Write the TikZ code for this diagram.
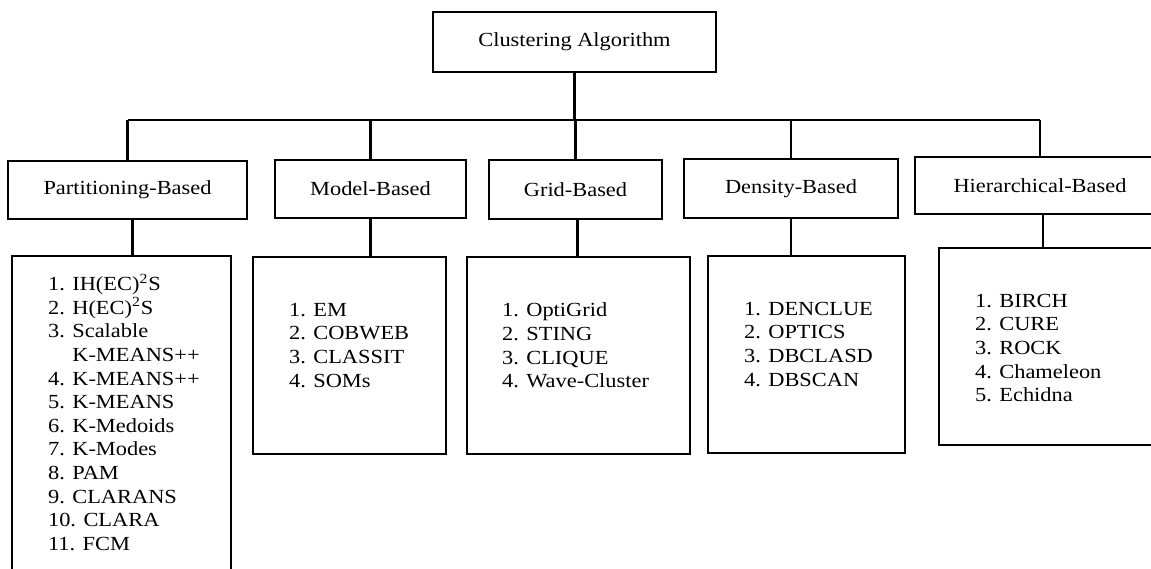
\documentclass[tikz,border=0pt]{standalone}
\usepackage{fontspec}
\setmainfont{Liberation Serif}[FakeStretch=1.12]

\begin{document}
\begin{tikzpicture}[x=0.5pt,y=-0.5pt,line width=1.1pt,
  box/.style 2 args={draw,inner sep=0pt,minimum width=#1,minimum height=#2,
    font=\fontsize{10pt}{11.8pt}\selectfont},
  listtext/.style={align=left,anchor=north west,inner sep=0pt,
    font=\fontsize{10pt}{11.8pt}\selectfont}]
  \useasboundingbox (0,0) rectangle (1151,568);

  % top
  \node[box={141.5pt}{30pt}] (root) at (574.5,42) {Clustering Algorithm};

  % categories
  \node[box={119.5pt}{29pt}] (part) at (127.5,190) {Partitioning-Based};
  \node[box={95.5pt}{29pt}] (model) at (370.5,189) {Model-Based};
  \node[box={86.5pt}{29.5pt}] (grid) at (575.5,189.5) {Grid-Based};
  \node[box={107pt}{29.5pt}] (dens) at (791,188.5) {Density-Based};
  \node[box={125pt}{28.5pt}] (hier) at (1040,185.5) {Hierarchical-Based};

  % algorithm lists
  \node[box={109.5pt}{170pt}] (partlist) at (121.5,426) {};
  \node[box={96.5pt}{98.5pt}] (modellist) at (349.5,355.5) {};
  \node[box={111.5pt}{98.5pt}] (gridlist) at (578.5,355.5) {};
  \node[box={98.5pt}{98.5pt}] (denslist) at (806.5,354.5) {};
  \node[box={108pt}{98.5pt}] (hierlist) at (1047,346.5) {};

  \node[listtext] (parttxt) at (47,273) {1. IH(EC)\textsuperscript{2}S\\
    2. H(EC)\textsuperscript{2}S\\3. Scalable\\\hphantom{3. }K-MEANS++\\
    4. K-MEANS++\\5. K-MEANS\\6. K-Medoids\\7. K-Modes\\8. PAM\\
    9. CLARANS\\10. CLARA\\11. FCM};
  \node[listtext] (modeltxt) at (288,302) {1. EM\\2. COBWEB\\3. CLASSIT\\4. SOMs};
  \node[listtext] (gridtxt) at (501,302) {1. OptiGrid\\2. STING\\3. CLIQUE\\4. Wave-Cluster};
  \node[listtext] (denstxt) at (743,301) {1. DENCLUE\\2. OPTICS\\3. DBCLASD\\4. DBSCAN};
  \node[listtext] (hiertxt) at (974,293) {1. BIRCH\\2. CURE\\3. ROCK\\4. Chameleon\\5. Echidna};

  % tree lines
  \coordinate (bus) at (0,120);
  \draw (root.south) -- (root.south |- bus);
  \draw (part.north |- bus) -- (hier.north |- bus);
  \draw (part.north |- bus) -- (part.north);
  \draw (model.north |- bus) -- (model.north);
  \draw (grid.north |- bus) -- (grid.north);
  \draw (dens.north |- bus) -- (dens.north);
  \draw (hier.north |- bus) -- (hier.north);
  \draw ([xshift=2.5pt]part.south) -- ([xshift=2.5pt]part.south |- partlist.north);
  \draw (model.south) -- (model.south |- modellist.north);
  \draw ([xshift=1pt]grid.south) -- ([xshift=1pt]grid.south |- gridlist.north);
  \draw (dens.south) -- (dens.south |- denslist.north);
  \draw ([xshift=1.5pt]hier.south) -- ([xshift=1.5pt]hier.south |- hierlist.north);
\end{tikzpicture}
\end{document}
